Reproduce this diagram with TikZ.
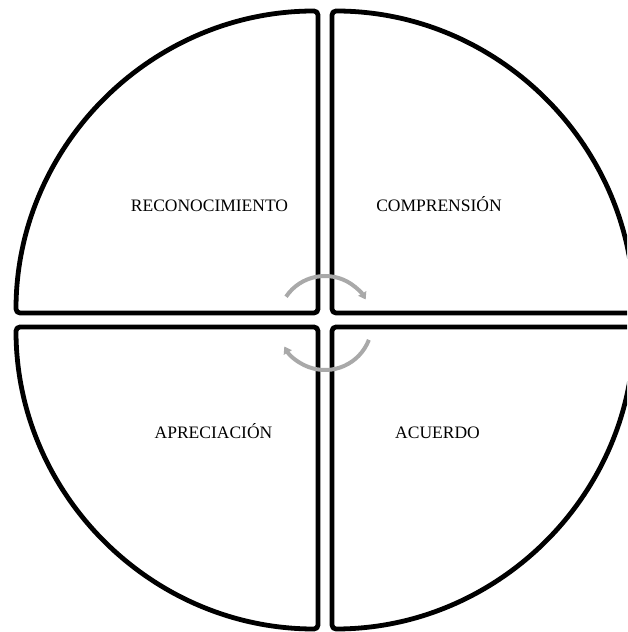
\documentclass[tikz,border=0pt]{standalone}
\usepackage{fontspec}
\setmainfont{Liberation Serif}
\usetikzlibrary{arrows.meta}
\definecolor{cyclegray}{HTML}{A9A9A9}
\tikzset{
  % the four quarters of the circle
  quarter/.style={draw=black, line width=4.8pt, rounded corners=4pt, line join=round},
  stage/.style={font=\fontsize{17.5}{20}\selectfont, anchor=base, inner sep=0pt},
  % the turning arrows in the middle
  turn/.style={-{Triangle[length=7pt,width=9pt]}, line width=4pt, color=cyclegray},
}
\begin{document}
\begin{tikzpicture}[x=1pt,y=1pt]
  \useasboundingbox (0,0) rectangle (627,632);
  \clip (0,0) rectangle (627,632);
  % quarters
  \draw[quarter] (318,319) -- (16,319) arc[start angle=180, end angle=90, radius=302] -- cycle;
  \draw[quarter] (332,319) -- (332,621) arc[start angle=90, end angle=0, radius=302] -- cycle;
  \draw[quarter] (318,305) -- (318,3) arc[start angle=270, end angle=180, radius=302] -- cycle;
  \draw[quarter] (332,305) -- (634,305) arc[start angle=0, end angle=-90, radius=302] -- cycle;
  % labels
  \node[stage] (recon) at (209.5,420) {RECONOCIMIENTO};
  \node[stage] (compr) at (439,420) {COMPRENSIÓN};
  \node[stage] (aprec) at (213.5,193) {APRECIACIÓN};
  \node[stage] (acuer) at (437.5,193) {ACUERDO};
  % the cycle
  \coordinate (hub) at (325,309);
  \draw[turn] (hub) ++(146:47) arc[start angle=146, end angle=30, radius=47];
  \draw[turn] (hub) ++(-21:47) arc[start angle=-21, end angle=-150, radius=47];
\end{tikzpicture}
\end{document}
